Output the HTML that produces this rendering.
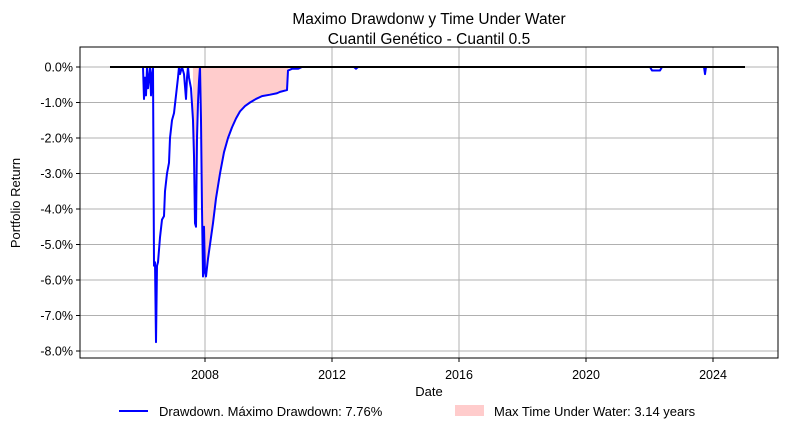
<!DOCTYPE html>
<html><head><meta charset="utf-8"><style>
body{margin:0;background:#fff;font-family:"Liberation Sans","DejaVu Sans",sans-serif}
</style></head><body>
<svg id="c" width="786" height="434" xmlns="http://www.w3.org/2000/svg"></svg>
<script>
const xTickYears=[2008,2012,2016,2020,2024];
const yTicks=[0,-1,-2,-3,-4,-5,-6,-7,-8];
const ddX=[110,143,144,145,146,147,148,149,150,151,152,153,154,155,156,157,158,160,162,164,165,167,169,170,172,174,176,178,179,180,182,184,186,187,188,189,191,193,194,195,196,197,198,199,200,201,202,203,204,205,206,208,210,213,216,220,224,228,232,236,240,245,250,256,262,270,277,280,287,288,292,298,302,354,356,358,650,652,660,662,704,705,706,745];
const ddV=[0,0,-0.9,-0.3,-0.8,0,-0.6,-0.3,0,-0.8,-0.2,0,-5.6,-5.5,-7.75,-5.6,-5.5,-4.8,-4.3,-4.2,-3.5,-3.0,-2.7,-2.0,-1.5,-1.3,-0.8,-0.3,0,-0.2,0,-0.2,-0.9,-0.3,0,-0.3,-0.6,-1.5,-2.5,-4.4,-4.5,-2,-1,-0.4,0,-1.5,-4,-5.9,-4.5,-5.8,-5.9,-5.4,-5.0,-4.4,-3.7,-3.0,-2.4,-2.0,-1.7,-1.45,-1.25,-1.1,-1.0,-0.9,-0.82,-0.78,-0.74,-0.7,-0.65,-0.1,-0.05,-0.05,0,0,-0.05,0,0,-0.1,-0.1,0,0,-0.2,0,0];
const ddYears=ddX.map(x=>2008+(x-205)/31.75);
const fillStart=2007.62, fillEnd=2010.65;
const L=80,R=778,T=47,B=358;
const sx=y=>205+(y-2008)*31.75;
const sy=v=>67-v*35.5;
const svg=document.getElementById('c');const NS='http://www.w3.org/2000/svg';
function mk(t,a,txt){const e=document.createElementNS(NS,t);for(const k in a)e.setAttribute(k,a[k]);if(txt!=null)e.textContent=txt;svg.appendChild(e);return e;}
xTickYears.forEach(yr=>{const x=sx(yr);
const g=mk('line',{x1:x,x2:x,y1:T,y2:B,stroke:'#b0b0b0','stroke-width':1});

mk('line',{x1:x,x2:x,y1:B,y2:B+4,stroke:'#000'});
const t=mk('text',{x:x,y:B+21,'text-anchor':'middle','font-size':12.5},String(yr));
});
yTicks.forEach(v=>{const y=sy(v);
const g=mk('line',{x1:L,x2:R,y1:y,y2:y,stroke:'#b0b0b0','stroke-width':1});

mk('line',{x1:L-4,x2:L,y1:y,y2:y,stroke:'#000'});
const t=mk('text',{x:L-7,y:y+4.5,'text-anchor':'end','font-size':12.5},v.toFixed(1)+'%');
});
let pts=[];for(let i=0;i<ddYears.length;i++){if(ddYears[i]>=fillStart&&ddYears[i]<=fillEnd)pts.push(sx(ddYears[i])+','+sy(ddV[i]));}
pts.push(sx(fillEnd)+','+sy(0));pts.unshift(sx(fillStart)+','+sy(0));
const f=mk('polygon',{points:pts.join(' '),fill:'#ffcccc'});

const p=mk('polyline',{points:ddYears.map((yr,i)=>sx(yr)+','+sy(ddV[i])).join(' '),fill:'none',stroke:'#0000ff','stroke-width':2,'stroke-linejoin':'round'});

const z=mk('line',{x1:sx(ddYears[0]),x2:sx(ddYears[ddYears.length-1]),y1:sy(0),y2:sy(0),stroke:'#000','stroke-width':2});

const fr=mk('rect',{x:L,y:T,width:R-L,height:B-T,fill:'none',stroke:'#000','stroke-width':1});

</script>
<svg style="position:absolute;left:0;top:0" width="786" height="434" xmlns="http://www.w3.org/2000/svg">
<text x="429" y="24" text-anchor="middle" font-size="15.5" font-family="Liberation Sans,sans-serif">Maximo Drawdonw y Time Under Water</text>
<text x="429" y="44" text-anchor="middle" font-size="15.5" font-family="Liberation Sans,sans-serif">Cuantil Genético - Cuantil 0.5</text>
<text x="429" y="396" text-anchor="middle" font-size="13" font-family="Liberation Sans,sans-serif">Date</text>
<text x="20" y="203" text-anchor="middle" font-size="13" font-family="Liberation Sans,sans-serif" transform="rotate(-90 20 203)">Portfolio Return</text>
<g font-family="Liberation Sans,sans-serif" font-size="13">
<line x1="119" x2="148" y1="411" y2="411" stroke="#0000ff" stroke-width="2"/>
<text x="159" y="416">Drawdown. Máximo Drawdown: 7.76%</text>
<rect x="455" y="405" width="29" height="11" fill="#ffcccc"/>
<text x="494" y="416">Max Time Under Water: 3.14 years</text>
</g>
</svg>
</body></html>
